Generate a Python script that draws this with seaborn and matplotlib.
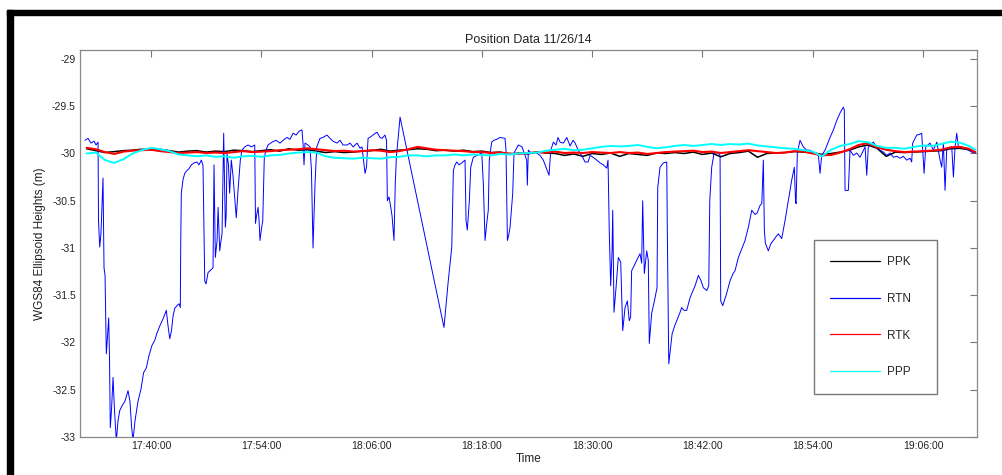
import numpy as np
import pandas as pd
import seaborn as sns
import matplotlib.pyplot as plt
from matplotlib.patches import Rectangle

# time axis: minutes after 17:30
tick_pos = [12, 24, 36, 48, 60, 72, 84, 96]
tick_labels = ['17:40:00', '17:54:00', '18:06:00', '18:18:00',
               '18:30:00', '18:42:00', '18:54:00', '19:06:00']
ytick_pos = [-33, -32.5, -32, -31.5, -31, -30.5, -30, -29.5, -29]
ytick_labels = ['-33', '-32.5', '-32', '-31.5', '-31', '-30.5', '-30', '-29.5', '-29']

# RTN (network RTK) trace, read point by point
rtn_t = [4.82, 5.15, 5.47, 5.80, 6.02, 6.24, 6.29, 6.42, 6.56, 6.78, 6.89, 7.00, 7.14, 7.27,
         7.40, 7.49, 7.57, 7.70, 7.87, 8.03, 8.23, 8.41, 8.60, 8.85, 9.17, 9.50, 9.71, 9.88,
         10.04, 10.26, 10.59, 10.92, 11.19, 11.49, 11.78, 12.11, 12.40, 12.65, 12.98, 13.31,
         13.67, 13.85, 14.04, 14.23, 14.40, 14.58, 14.83, 15.05, 15.19, 15.24, 15.30, 15.48,
         15.67, 15.92, 16.14, 16.39, 16.68, 17.00, 17.22, 17.48, 17.66, 17.85, 17.99, 18.21,
         18.53, 18.75, 18.86, 19.00, 19.19, 19.30, 19.48, 19.62, 19.73, 19.91, 20.09, 20.18,
         20.27, 20.43, 20.56, 20.74, 20.92, 21.28, 21.47, 21.72, 21.90, 22.20, 22.56, 22.92,
         23.29, 23.37, 23.48, 23.65, 23.76, 23.86, 24.03, 24.16, 24.33, 24.52, 24.73, 25.17,
         25.60, 26.04, 26.37, 26.80, 27.13, 27.46, 27.79, 28.11, 28.43, 28.54, 28.65, 28.76,
         29.08, 29.30, 29.46, 29.63, 29.74, 29.85, 30.04, 30.39, 30.72, 31.15, 31.48, 31.81,
         32.24, 32.57, 32.89, 33.33, 33.66, 33.99, 34.42, 34.75, 34.96, 35.13, 35.29, 35.45,
         35.62, 35.95, 36.28, 36.59, 36.92, 37.14, 37.46, 37.63, 37.72, 37.90, 38.06, 38.23,
         38.44, 38.58, 38.71, 38.87, 39.10, 43.88, 44.35, 44.73, 44.90, 45.08, 45.27, 45.52,
         45.81, 46.17, 46.28, 46.42, 46.64, 46.79, 47.07, 47.48, 47.99, 48.16, 48.35, 48.51,
         48.70, 48.81, 49.07, 49.32, 49.62, 49.98, 50.52, 50.63, 50.78, 50.91, 51.07, 51.36,
         51.50, 51.97, 52.37, 52.88, 52.95, 53.06, 53.35, 53.79, 54.33, 54.69, 54.98, 55.31,
         55.50, 55.78, 56.07, 56.29, 56.51, 56.87, 57.24, 57.60, 57.93, 58.15, 58.48, 58.69,
         59.02, 59.23, 59.56, 59.78, 60.10, 60.50, 60.86, 61.22, 61.59, 61.73, 61.87, 62.02,
         62.17, 62.24, 62.38, 62.60, 62.85, 63.11, 63.33, 63.58, 63.83, 64.04, 64.19, 64.30,
         64.56, 64.85, 65.21, 65.39, 65.50, 65.68, 65.94, 66.11, 66.22, 66.48, 66.85, 67.06,
         67.14, 67.39, 67.75, 68.12, 68.18, 68.34, 68.70, 68.99, 69.21, 69.57, 69.75, 70.00,
         70.29, 70.66, 70.98, 71.20, 71.56, 71.85, 72.10, 72.47, 72.69, 72.80, 73.01, 73.27,
         73.73, 73.92, 73.99, 74.21, 74.64, 75.01, 75.34, 75.55, 75.91, 76.31, 76.64, 77.00,
         77.37, 77.73, 77.95, 78.27, 78.46, 78.63, 78.74, 78.85, 79.17, 79.47, 79.72, 80.01,
         80.26, 80.63, 80.99, 81.35, 81.72, 82.00, 82.13, 82.19, 82.33, 82.62, 82.98, 83.35,
         83.71, 84.15, 84.62, 84.80, 84.98, 85.34, 85.89, 86.25, 86.62, 86.98, 87.33, 87.44,
         87.52, 87.88, 88.06, 88.43, 88.79, 89.15, 89.70, 89.88, 90.05, 90.60, 90.97, 91.33,
         91.69, 92.06, 92.42, 92.78, 93.15, 93.50, 93.86, 94.23, 94.59, 94.77, 94.88, 95.32,
         95.68, 95.86, 95.97, 96.12, 96.30, 96.77, 97.13, 97.50, 97.86, 98.04, 98.22, 98.40,
         98.58, 99.13, 99.31, 99.49, 99.67, 99.85, 100.21, 100.57, 100.93, 101.30, 101.67]
rtn_h = [-29.86, -29.84, -29.89, -29.87, -29.91, -29.88, -30.71, -30.99, -30.84, -30.26, -31.21,
         -31.29, -32.12, -31.93, -31.74, -32.19, -32.90, -32.72, -32.37, -32.72, -33.04, -32.83,
         -32.72, -32.67, -32.62, -32.51, -32.62, -32.88, -33.04, -32.83, -32.62, -32.49, -32.32,
         -32.27, -32.14, -32.03, -31.98, -31.90, -31.82, -31.75, -31.66, -31.82, -31.96, -31.875,
         -31.72, -31.64, -31.61, -31.59, -31.63, -30.92, -30.42, -30.28, -30.21, -30.18, -30.16,
         -30.12, -30.10, -30.09, -30.12, -30.07, -30.13, -31.35, -31.38, -31.26, -31.23, -31.21,
         -30.12, -31.10, -30.92, -30.57, -31.03, -30.92, -30.85, -29.785, -30.78, -30.66, -30.00,
         -30.12, -30.42, -30.07, -30.23, -30.68, -30.39, -30.07, -29.965, -29.93, -29.91, -29.93,
         -29.91, -30.74, -30.66, -30.57, -30.71, -30.92, -30.79, -30.71, -30.04, -29.965, -29.91,
         -29.88, -29.86, -29.89, -29.86, -29.83, -29.85, -29.785, -29.805, -29.765, -29.75, -29.89,
         -30.12, -29.89, -29.91, -29.93, -30.18, -31.00, -30.66, -30.315, -29.93, -29.84, -29.83,
         -29.805, -29.84, -29.87, -29.89, -29.86, -29.91, -29.91, -29.89, -29.93, -29.89, -29.945,
         -29.93, -30.07, -30.21, -30.145, -29.84, -29.82, -29.795, -29.775, -29.83, -29.84,
         -29.805, -29.86, -30.50, -30.46, -30.55, -30.66, -30.92, -30.315, -30.02, -29.86, -29.615,
         -31.84, -31.345, -30.99, -30.18, -30.12, -30.09, -30.12, -30.10, -30.07, -30.71, -30.81,
         -30.50, -30.145, -30.04, -30.02, -29.995, -30.315, -30.92, -30.76, -30.60, -30.07, -29.88,
         -29.86, -29.85, -29.83, -29.84, -29.965, -30.92, -30.87, -30.78, -30.42, -29.995, -29.91,
         -29.93, -30.07, -30.335, -29.965, -29.995, -29.985, -30.02, -30.07, -30.145, -30.23,
         -29.965, -29.88, -29.91, -29.83, -29.88, -29.89, -29.83, -29.92, -29.86, -29.89, -29.965,
         -29.995, -30.05, -30.09, -30.09, -30.02, -30.04, -30.07, -30.10, -30.12, -30.155, -30.07,
         -30.85, -31.40, -31.03, -30.60, -31.68, -31.42, -31.10, -31.15, -31.875, -31.63, -31.56,
         -31.77, -31.73, -31.24, -31.19, -31.13, -31.06, -31.16, -30.50, -31.27, -31.03, -31.13,
         -32.01, -31.69, -31.525, -31.42, -30.36, -30.145, -30.10, -30.09, -30.81, -32.225, -31.91,
         -31.82, -31.77, -31.68, -31.63, -31.66, -31.66, -31.525, -31.45, -31.40, -31.29, -31.345,
         -31.42, -31.45, -31.40, -30.50, -30.145, -29.995, -29.995, -30.02, -31.56, -31.61, -31.48,
         -31.345, -31.27, -31.24, -31.10, -31.00, -30.92, -30.78, -30.60, -30.645, -30.63, -30.55,
         -30.53, -30.07, -30.81, -30.95, -31.03, -30.95, -30.92, -30.88, -30.85, -30.90, -30.71,
         -30.50, -30.28, -30.145, -30.50, -30.53, -29.995, -29.86, -29.93, -29.965, -29.965,
         -29.995, -30.02, -30.21, -30.02, -29.965, -29.83, -29.75, -29.65, -29.57, -29.51, -29.54,
         -30.39, -30.39, -29.965, -30.02, -29.995, -30.04, -29.93, -30.23, -29.93, -29.88, -29.93,
         -29.965, -29.985, -30.02, -29.995, -30.04, -30.03, -30.05, -30.03, -30.07, -30.05, -30.09,
         -29.89, -29.805, -29.795, -29.785, -29.965, -30.21, -29.93, -29.89, -29.965, -29.88,
         -30.07, -30.145, -29.89, -30.39, -29.965, -29.93, -30.25, -29.93, -29.785, -29.93, -29.93,
         -29.945, -29.965, -29.985, -29.995]

# PPK, RTK, PPP sampled about once a minute
base_t = [5, 6, 7, 8, 9, 10, 11, 12, 13, 14, 15, 16, 17, 18, 19, 20, 21, 22, 23, 24, 25,
          26, 27, 28, 29, 30, 31, 32, 33, 34, 35, 36, 37, 38, 39, 40, 41, 42, 43, 44, 45,
          46, 47, 48, 49, 50, 51, 52, 53, 54, 55, 56, 57, 58, 59, 60, 61, 62, 63, 64, 65,
          66, 67, 68, 69, 70, 71, 72, 73, 74, 75, 76, 77, 78, 79, 80, 81, 82, 83, 84, 85,
          86, 87, 88, 89, 90, 91, 92, 93, 94, 95, 96, 97, 98, 99, 100, 101, 101.7]
ppk_h = [-29.95, -29.97, -29.99, -29.98, -29.97, -29.965, -29.955, -29.96, -29.955, -29.97,
         -29.985, -29.975, -29.97, -29.985, -29.975, -29.98, -29.965, -29.97, -29.98, -29.97,
         -29.96, -29.975, -29.95, -29.965, -29.96, -29.975, -29.99, -29.98, -29.99, -29.985,
         -29.975, -29.97, -29.955, -29.975, -29.965, -29.96, -29.95, -29.955, -29.97, -29.965,
         -29.975, -29.965, -29.98, -29.975, -29.99, -29.985, -30.01, -29.995, -30.005, -29.985,
         -29.995, -30.0, -30.02, -30.005, -30.03, -30.0, -30.01, -29.995, -30.03, -30.0, -30.01,
         -30.02, -29.995, -30.0, -29.99, -30.0, -29.985, -30.01, -29.995, -30.035, -30.0, -29.99,
         -29.975, -30.04, -30.0, -29.995, -29.99, -29.98, -29.985, -29.99, -30.01, -30.0, -29.985,
         -29.965, -29.93, -29.91, -29.945, -30.03, -29.985, -29.99, -29.985, -29.98, -29.975,
         -29.97, -29.95, -29.945, -29.96, -29.985]
rtk_h = [-29.94, -29.955, -29.985, -30.005, -29.98, -29.97, -29.965, -29.96, -29.975, -29.985,
         -29.995, -29.99, -29.985, -29.995, -29.99, -29.995, -29.985, -29.975, -29.985, -29.98,
         -29.975, -29.965, -29.96, -29.955, -29.945, -29.955, -29.965, -29.975, -29.97, -29.98,
         -29.975, -29.965, -29.97, -29.985, -29.975, -29.955, -29.93, -29.945, -29.96, -29.965,
         -29.97, -29.975, -29.985, -29.985, -29.995, -29.99, -30.0, -30.005, -29.995, -29.985,
         -29.99, -29.98, -29.995, -29.99, -29.995, -29.985, -29.99, -29.995, -29.985, -29.995,
         -29.99, -30.005, -29.995, -29.985, -29.98, -29.975, -29.97, -29.985, -29.98, -29.995,
         -29.985, -29.975, -29.965, -29.975, -29.985, -29.995, -29.99, -29.975, -29.98, -30.0,
         -30.02, -30.015, -29.99, -29.955, -29.91, -29.89, -29.935, -29.96, -29.975, -29.985,
         -29.98, -29.975, -29.97, -29.96, -29.935, -29.93, -29.95, -29.985]
ppp_h = [-30.0, -29.99, -30.07, -30.1, -30.06, -30.0, -29.965, -29.94, -29.955, -29.975,
         -30.01, -30.02, -30.03, -30.02, -30.035, -30.03, -30.045, -30.03, -30.025, -30.035,
         -30.02, -30.015, -30.0, -29.99, -29.985, -29.99, -30.03, -30.045, -30.05, -30.055,
         -30.045, -30.05, -30.055, -30.04, -30.035, -30.02, -30.02, -30.03, -30.02, -30.02,
         -30.01, -30.02, -30.01, -30.015, -30.02, -30.005, -30.01, -30.0, -29.995, -29.99,
         -29.97, -29.96, -29.95, -29.965, -29.96, -29.945, -29.93, -29.92, -29.925, -29.92,
         -29.91, -29.93, -29.945, -29.935, -29.92, -29.91, -29.92, -29.91, -29.9, -29.91,
         -29.9, -29.905, -29.895, -29.915, -29.925, -29.935, -29.945, -29.95, -29.965, -29.98,
         -30.03, -29.96, -29.92, -29.9, -29.87, -29.88, -29.92, -29.94, -29.94, -29.95,
         -29.93, -29.915, -29.92, -29.9, -29.875, -29.885, -29.92, -29.96]

sns.set_style('white')
plt.rcParams['font.family'] = ['Liberation Sans', 'DejaVu Sans']

fig = plt.figure(figsize=(10.03, 4.75), dpi=100)
ax = fig.add_axes([0.0798, 0.080, 0.8943, 0.8147])

rtn = pd.DataFrame({'t': rtn_t, 'h': rtn_h})
base = pd.DataFrame({'t': base_t, 'PPK': ppk_h, 'RTK': rtk_h, 'PPP': ppp_h})

sns.lineplot(data=base, x='t', y='PPK', color='black', linewidth=1.1, label='PPK',
             estimator=None, sort=False, ax=ax)
sns.lineplot(data=rtn, x='t', y='h', color='blue', linewidth=0.7, label='RTN',
             estimator=None, sort=False, ax=ax)
sns.lineplot(data=base, x='t', y='RTK', color='red', linewidth=1.5, label='RTK',
             estimator=None, sort=False, ax=ax)
sns.lineplot(data=base, x='t', y='PPP', color='cyan', linewidth=1.4, label='PPP',
             estimator=None, sort=False, ax=ax)

ax.set_xlim(4.28, 101.88)
ax.set_ylim(-33, -28.905)
ax.set_xticks(tick_pos)
ax.set_xticklabels(tick_labels)
ax.set_yticks(ytick_pos)
ax.set_yticklabels(ytick_labels)
ax.tick_params(direction='in', length=5, width=0.8, color='#777777', labelsize=7.5,
               labelcolor='#222222', top=True, right=True, pad=3)
for s in ax.spines.values():
    s.set_color('#888888')
    s.set_linewidth(0.9)

ax.set_title('Position Data 11/26/14', fontsize=9, color='#222222', pad=5)
ax.set_xlabel('Time', fontsize=8.5, color='#222222', labelpad=1)
ax.set_ylabel('WGS84 Ellipsoid Heights (m)', fontsize=8.5, color='#222222', labelpad=4)

leg = ax.legend(loc='upper left', bbox_to_anchor=(0.818, 0.116, 0.137, 0.393),
                mode='expand', fontsize=8.5, handlelength=4.3, handletextpad=0.55,
                labelspacing=2.1, borderpad=1.35, borderaxespad=0, fancybox=False,
                framealpha=1, edgecolor='#777777')
for line in leg.get_lines():
    line.set_linewidth(0.9)

# thick black frame along top and left edges
fig.patches.append(Rectangle((7 / 1003, 0), 6 / 1003, 465 / 475, transform=fig.transFigure,
                             color='black', zorder=10))
fig.patches.append(Rectangle((7 / 1003, 1 - 15 / 475), 996 / 1003, 5 / 475,
                             transform=fig.transFigure, color='black', zorder=10))

fig.savefig('out.png', dpi=100)
